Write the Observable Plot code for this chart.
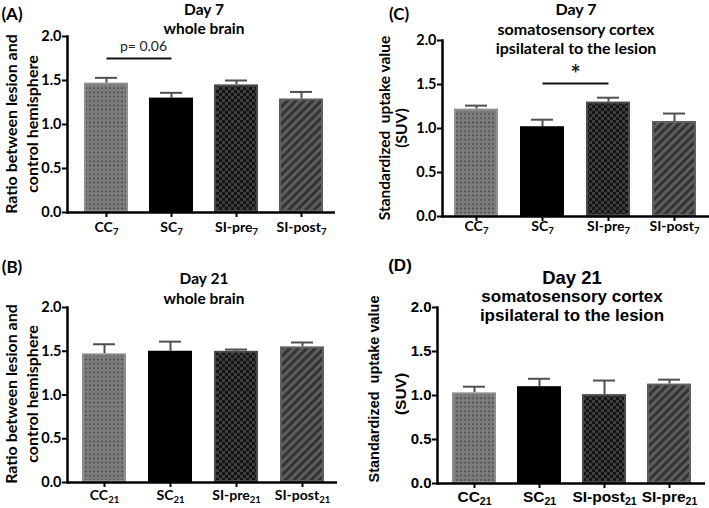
<!DOCTYPE html>
<html><head><meta charset="utf-8">
<script src="https://cdn.jsdelivr.net/npm/d3@7"></script>
<script src="https://cdn.jsdelivr.net/npm/@observablehq/plot@0.6"></script>
<style>
body{margin:0;background:#fff;}
#root{position:relative;width:709px;height:508px;overflow:hidden;background:#fff;}
.panel{position:absolute;}
.t{position:absolute;white-space:pre;transform:translate(-50%,-50%);font-weight:bold;color:#000;line-height:1.2;}
.rot{transform:translate(-50%,-50%) rotate(-90deg);}
</style></head><body>
<svg width="0" height="0" style="position:absolute">
<defs>
<pattern id="pDots" patternUnits="userSpaceOnUse" width="4" height="4.3">
 <rect width="4" height="4.3" fill="#7c7c7c"/><rect x="1.3" y="1.4" width="1.4" height="1.4" fill="#383838"/>
</pattern>
<pattern id="pCheck" patternUnits="userSpaceOnUse" width="6" height="6">
 <rect width="6" height="6" fill="#3e3e3e"/><rect width="3" height="3" fill="#161616"/><rect x="3" y="3" width="3" height="3" fill="#161616"/>
</pattern>
<pattern id="pStripe" patternUnits="userSpaceOnUse" width="6" height="6" patternTransform="rotate(45)">
 <rect width="6" height="6" fill="#343434"/><rect width="3" height="6" fill="#5e5e5e"/>
</pattern>
</defs></svg>
<div id="root"></div>
<script>
// ---- data ----
const groupsA = ["CC", "SC", "SI-pre", "SI-post"];
const groupsB = ["CC", "SC", "SI-pre", "SI-post"];
const groupsC = ["CC", "SC", "SI-pre", "SI-post"];
const groupsD = ["CC", "SC", "SI-post", "SI-pre"];
const subs7 = ["7", "7", "7", "7"];
const subs21 = ["21", "21", "21", "21"];

const meanA = [1.47, 1.30, 1.45, 1.29];
const semA  = [0.06, 0.06, 0.05, 0.08];
const meanB = [1.47, 1.50, 1.50, 1.55];
const semB  = [0.11, 0.11, 0.02, 0.05];
const meanC = [1.22, 1.02, 1.30, 1.08];
const semC  = [0.04, 0.08, 0.05, 0.09];
const meanD = [1.03, 1.10, 1.01, 1.13];
const semD  = [0.07, 0.09, 0.16, 0.05];

const yTicks = [0, 0.5, 1, 1.5, 2];

const titleA = ["Day 7", "whole brain"];
const titleB = ["Day 21", "whole brain"];
const titleC = ["Day 7", "somatosensory cortex", "ipsilateral to the lesion"];
const titleD = ["Day 21", "somatosensory cortex", "ipsilateral to the lesion"];
const ylabAB = ["Ratio between lesion and", "control hemisphere"];
const ylabCD = ["Standardized  uptake value", "(SUV)"];

const annA = [{from: "CC", to: "SC", y: 1.75, labelY: 1.89, label: "p= 0.06"}];
const annC = [{from: "SC", to: "SI-pre", y: 1.51, labelY: 1.61, label: "*"}];

// ---- styles ----
const barFills = ["url(#pDots)", "#000000", "url(#pCheck)", "url(#pStripe)"];
const barStrokes = ["#8f8f8f", "#000000", "#4a4a4a", "#606060"];
const errColor = "#4f4f4f";
const fontCal = "Lato, 'Open Sans', sans-serif";
const fontAri = "'Liberation Sans', Arial, sans-serif";

const root = document.getElementById("root");
const NS = "http://www.w3.org/2000/svg";

function addText(txt, x, y, size, family, opts = {}) {
  const d = document.createElement("div");
  d.className = "t" + (opts.rot ? " rot" : "");
  d.textContent = txt;
  d.style.left = x + "px";
  d.style.top = y + "px";
  d.style.fontSize = size + "px";
  d.style.fontFamily = family;
  if (opts.weight) d.style.fontWeight = opts.weight;
  root.appendChild(d);
}

function panel(cfg) {
  const data = cfg.groups.map((g, i) => ({
    g, mean: cfg.mean[i], sem: cfg.sem[i], fill: barFills[i], stroke: barStrokes[i]
  }));
  const marks = [
    Plot.ruleX(data, {x: "g", y1: "mean", y2: d => d.mean + d.sem, stroke: errColor, strokeWidth: 2}),
    Plot.tickY(data, {x: "g", y: d => d.mean + d.sem, stroke: errColor, strokeWidth: 2, insetLeft: 11, insetRight: 11}),
    Plot.barY(data, {x: "g", y: "mean", fill: "fill", stroke: "stroke", strokeWidth: 2, inset: 1}),
    Plot.axisY({ticks: yTicks, tickFormat: d3.format(".1f"), tickSize: 5, tickPadding: 1, strokeWidth: 2,
      fontSize: cfg.yTickFont, label: null}),
    Plot.axisX({tickSize: 5, tickPadding: cfg.xPad, strokeWidth: 2, fontSize: cfg.xTickFont, label: null}),
    Plot.frame({anchor: "left", strokeWidth: 2.5}),
    Plot.ruleY([0], {strokeWidth: 2.5})
  ];
  if (cfg.ann) {
    marks.push(Plot.link(cfg.ann, {x1: "from", x2: "to", y1: "y", y2: "y", stroke: "#111", strokeWidth: 2}));
    marks.push(Plot.text(cfg.ann, {x: "from", y: "labelY", text: "label", dx: cfg.annDx,
      fontSize: cfg.annFont, fontWeight: cfg.annWeight, fill: "#222"}));
  }
  const svg = Plot.plot({
    width: cfg.w, height: cfg.h,
    marginLeft: cfg.ml, marginRight: cfg.mr, marginTop: cfg.mt, marginBottom: cfg.mb,
    x: {domain: cfg.groups, range: cfg.xr, paddingInner: 0.33, paddingOuter: 0.165},
    y: {domain: [0, 2]},
    color: {type: "identity"},
    style: {fontFamily: cfg.font, fontWeight: "bold", fontSize: cfg.yTickFont + "px", background: "transparent", color: "#000", overflow: "visible"},
    marks
  });
  // subscripts on the x tick labels
  let texts = svg.querySelectorAll('[aria-label="x-axis tick label"] text');
  if (!texts.length) texts = svg.querySelectorAll("text");
  texts.forEach(t => {
    const i = cfg.groups.indexOf(t.textContent);
    if (i < 0) return;
    t.textContent = "";
    const a = document.createElementNS(NS, "tspan");
    a.textContent = cfg.groups[i];
    const b = document.createElementNS(NS, "tspan");
    b.textContent = cfg.subs[i];
    b.setAttribute("dy", "0.32em");
    b.setAttribute("font-size", "0.68em");
    t.append(a, b);
  });
  svg.classList.add("panel");
  svg.style.left = cfg.left + "px";
  svg.style.top = cfg.top + "px";
  root.appendChild(svg);
}

panel({groups: groupsA, subs: subs7, mean: meanA, sem: semA, left: 0, top: 0, w: 355, h: 250,
  ml: 67, mr: 20, mt: 36, mb: 38, xr: [72.1, 335.4], font: fontCal, yTickFont: 14.5, xTickFont: 14, xPad: 5,
  ann: annA, annDx: 37, annFont: 14, annWeight: "normal"});
panel({groups: groupsB, subs: subs21, mean: meanB, sem: semB, left: 0, top: 250, w: 355, h: 258,
  ml: 67, mr: 18, mt: 57, mb: 26, xr: [71, 336], font: fontCal, yTickFont: 14.5, xTickFont: 14, xPad: 3});
panel({groups: groupsC, subs: subs7, mean: meanC, sem: semC, left: 355, top: 0, w: 354, h: 250,
  ml: 87, mr: 0, mt: 40, mb: 34, xr: [87.8, 353], font: fontCal, yTickFont: 14.5, xTickFont: 14, xPad: 0,
  ann: annC, annDx: 33, annFont: 24, annWeight: "bold"});
panel({groups: groupsD, subs: subs21, mean: meanD, sem: semD, left: 355, top: 250, w: 354, h: 258,
  ml: 82, mr: 4, mt: 57, mb: 25, xr: [85, 348.5], font: fontAri, yTickFont: 15, xTickFont: 15.5, xPad: 2});

// panel letters
addText("(A)", 12, 14, 17, fontCal);
addText("(B)", 12, 267, 17, fontCal);
addText("(C)", 399, 14, 17, fontCal);
addText("(D)", 400, 266, 17, fontAri);
// titles
titleA.forEach((s, i) => addText(s, 204, 9 + i * 19, 15.5, fontCal));
titleB.forEach((s, i) => addText(s, 204, 278 + i * 20, 15.5, fontCal));
titleC.forEach((s, i) => addText(s, 576, 9 + i * 19.5, 16, fontCal));
titleD.forEach((s, i) => addText(s, 572, 278 + i * 19, i === 0 ? 18.5 : 17, fontAri));
// y-axis labels
addText(ylabAB[0], 11, 124, 16, fontCal, {rot: true});
addText(ylabAB[1], 32, 124, 16, fontCal, {rot: true});
addText(ylabAB[0], 11, 394, 16, fontCal, {rot: true});
addText(ylabAB[1], 32, 394, 16, fontCal, {rot: true});
addText(ylabCD[0], 384, 128, 15.5, fontCal, {rot: true});
addText(ylabCD[1], 401, 128, 15.5, fontCal, {rot: true});
addText(ylabCD[0], 375, 389, 14.5, fontAri, {rot: true});
addText(ylabCD[1], 401, 394, 15.5, fontAri, {rot: true});
</script>
</body></html>
